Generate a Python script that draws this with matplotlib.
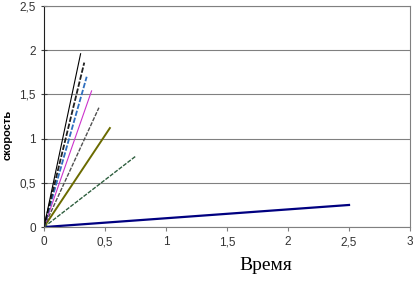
import matplotlib.pyplot as plt

# endpoints of each series (all start at the origin)
x_end = [2.5, 0.75, 0.54, 0.45, 0.39, 0.35, 0.33, 0.30]
y_end = [0.25, 0.80, 1.12, 1.35, 1.54, 1.70, 1.86, 1.96]
colors = ["#000080", "#2f5f3f", "#6b6b00", "#505050", "#cc33cc", "#2f6fbf", "#202020", "#000000"]
styles = ["-", "--", "-", "--", "-", "--", "--", "-"]
widths = [1.6, 1.0, 1.4, 1.0, 0.8, 1.3, 1.3, 0.8]

xticks = [0, 0.5, 1, 1.5, 2, 2.5, 3]
yticks = [0, 0.5, 1, 1.5, 2, 2.5]

fig = plt.figure(figsize=(4.15, 2.86), dpi=100)
ax = fig.add_axes([0.106, 0.206, 0.882, 0.773])

for xe, ye, c, ls, lw in zip(x_end, y_end, colors, styles, widths):
    if ls == "--":
        ax.plot([0, xe], [0, ye], color=c, linewidth=lw, dashes=(3, 1))
    else:
        ax.plot([0, xe], [0, ye], color=c, linewidth=lw)

ax.set_xlim(0, 3)
ax.set_ylim(0, 2.5)
ax.set_xticks(xticks)
ax.set_yticks(yticks)
ax.set_xticklabels([str(t).replace(".", ",") for t in xticks])
ax.set_yticklabels([str(t).replace(".", ",") for t in yticks])
ax.tick_params(axis="x", labelsize=8.5, length=3, width=0.8, color="#808080")
ax.tick_params(axis="y", labelsize=8.5, length=5, width=0.8, color="#404040", direction="inout")
for lab in ax.get_xticklabels() + ax.get_yticklabels():
    lab.set_family("Liberation Sans")
    lab.set_color("#333333")
ax.yaxis.grid(True, color="#808080", linewidth=0.8)
for s in ax.spines.values():
    s.set_color("#808080")
    s.set_linewidth(0.8)
ax.spines["left"].set_color("#202020")

fig.text(0.019, 0.528, "скорость", rotation=90, ha="center", va="center",
         fontsize=8, fontweight="bold", family="Liberation Sans")
fig.text(0.64, 0.072, "Время", ha="center", va="center",
         fontsize=14, family="Liberation Serif")

fig.savefig("out.png")
